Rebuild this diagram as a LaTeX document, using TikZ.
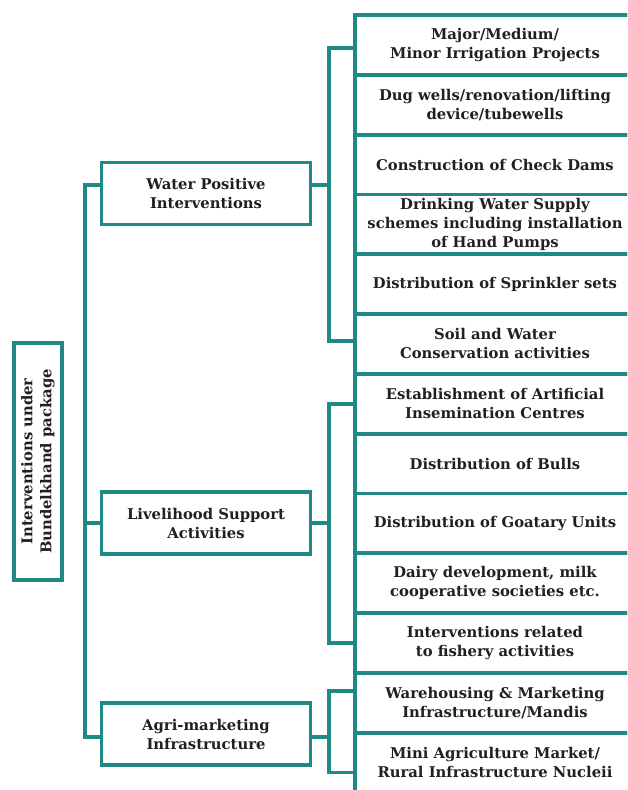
\documentclass[tikz,border=0pt]{standalone}
\usepackage{fontspec}
\setmainfont{DejaVu Serif}
\usepackage{tikz}
\usetikzlibrary{positioning}

\definecolor{tealline}{RGB}{31,138,133}
\definecolor{inktext}{RGB}{35,31,32}

\tikzset{
  box/.style={draw=tealline, line width=3.8pt, fill=white, align=center,
    text=inktext, inner sep=0pt, outer sep=0pt,
    font=\bfseries\fontsize{14.8}{19}\selectfont},
  rootbox/.style={box, rotate=90, minimum width=237pt, minimum height=48pt},
  groupbox/.style={box, minimum width=209pt, minimum height=62pt},
  leafbox/.style={box, anchor=north west, minimum width=280pt, minimum height=59.8pt},
  link/.style={draw=tealline, line width=3.8pt}
}

\begin{document}
\begin{tikzpicture}[x=1pt,y=-1pt]
  \useasboundingbox (0,0) rectangle (627,790);
  \clip (0,0) rectangle (627,790);

  % root and the three groups
  \node[rootbox] (root) at (38,461.5) {Interventions under\\Bundelkhand package};
  \node[groupbox] (wpi) at (206,193.5) {Water Positive\\Interventions};
  \node[groupbox] (lsa) at (206,523) {Livelihood Support\\Activities};
  \node[groupbox] (ami) at (206,734) {Agri-marketing\\Infrastructure};

  % stacked column on the right
  \foreach \t [count=\i] in {
      {Major/Medium/\\Minor Irrigation Projects},
      {Dug wells/renovation/lifting\\device/tubewells},
      {Construction of Check Dams},
      {Drinking Water Supply\\schemes including installation\\of Hand Pumps},
      {Distribution of Sprinkler sets},
      {Soil and Water\\Conservation activities},
      {Establishment of Artificial\\Insemination Centres},
      {Distribution of Bulls},
      {Distribution of Goatary Units},
      {Dairy development, milk\\cooperative societies etc.},
      {Interventions related\\to fishery activities},
      {Warehousing \& Marketing\\Infrastructure/Mandis},
      {Mini Agriculture Market/\\Rural Infrastructure Nucleii}}{
    \node[leafbox] (leaf\i) at (355,15+59.8*\i-59.8) {\t};
  }

  \coordinate (mx) at (85,0);
  \coordinate (bx) at (329,0);

  % trunk
  \draw[link] ([yshift=8.5pt]wpi.west) -- ([yshift=8.5pt]wpi.west -| mx)
    |- ([yshift=-3pt]ami.west);
  \draw[link] (lsa.west) -- (lsa.west -| mx);

  % brackets
  \draw[link] ([yshift=-3pt]leaf1.west) -- ([yshift=-3pt]leaf1.west -| bx)
    |- ([yshift=3pt]leaf6.west);
  \draw[link] ([yshift=8.5pt]wpi.east) -- ([yshift=8.5pt]wpi.east -| bx);

  \draw[link] (leaf7.west) -- (leaf7.west -| bx) |- (leaf11.west);
  \draw[link] (lsa.east) -- (lsa.east -| bx);

  \draw[link] ([yshift=12pt]leaf12.west) -- ([yshift=12pt]leaf12.west -| bx)
    |- ([yshift=-10pt]leaf13.west);
  \draw[link] ([yshift=-3pt]ami.east) -- ([yshift=-3pt]ami.east -| bx);
\end{tikzpicture}
\end{document}
